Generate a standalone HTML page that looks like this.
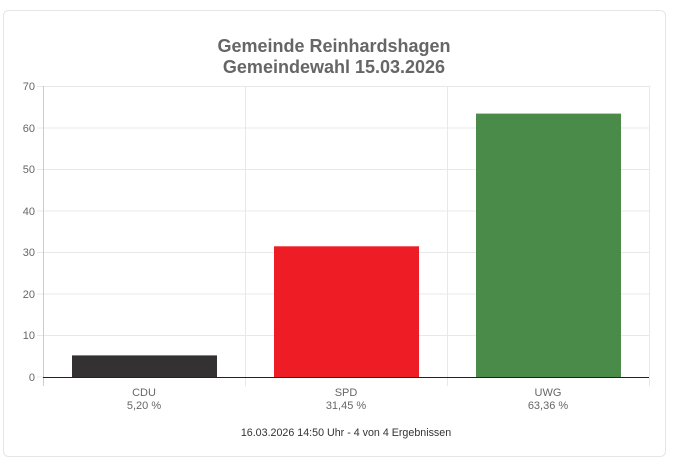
<!DOCTYPE html><html><head><style>body{margin:0;background:#fff;width:673px;height:467px;overflow:hidden;font-family:"Liberation Sans",sans-serif}</style></head><body>
<svg width="673" height="467" xmlns="http://www.w3.org/2000/svg" font-family="Liberation Sans, sans-serif">
<rect x="3.5" y="10.5" width="662" height="446" rx="5" fill="#fff" stroke="#e6e6e6"/>
<text x="334" y="52" text-anchor="middle" font-size="18" font-weight="bold" fill="#666">Gemeinde Reinhardshagen</text>
<text x="334" y="73" text-anchor="middle" font-size="18" font-weight="bold" fill="#666">Gemeindewahl 15.03.2026</text>
<g stroke="#e8e8e8" stroke-width="1">
<line x1="43" y1="86.5" x2="649" y2="86.5"/><line x1="43" y1="128" x2="649" y2="128"/><line x1="43" y1="169.5" x2="649" y2="169.5"/><line x1="43" y1="211" x2="649" y2="211"/><line x1="43" y1="252.5" x2="649" y2="252.5"/><line x1="43" y1="294" x2="649" y2="294"/><line x1="43" y1="335.5" x2="649" y2="335.5"/>
<line x1="245.5" y1="86" x2="245.5" y2="386"/><line x1="447.5" y1="86" x2="447.5" y2="386"/><line x1="649.5" y1="86" x2="649.5" y2="386"/>
<line x1="37" y1="86.5" x2="43" y2="86.5"/><line x1="37" y1="128" x2="43" y2="128"/><line x1="37" y1="169.5" x2="43" y2="169.5"/><line x1="37" y1="211" x2="43" y2="211"/><line x1="37" y1="252.5" x2="43" y2="252.5"/><line x1="37" y1="294" x2="43" y2="294"/><line x1="37" y1="335.5" x2="43" y2="335.5"/><line x1="37" y1="377" x2="43" y2="377"/>
</g>
<line x1="43.5" y1="86" x2="43.5" y2="386" stroke="#ccc"/>
<rect x="72" y="355.4" width="145" height="21.6" fill="#333132"/>
<rect x="274" y="246.3" width="145" height="130.7" fill="#ee1c25"/>
<rect x="476" y="113.6" width="145" height="263.4" fill="#4a8b49"/>
<line x1="43" y1="377.5" x2="649" y2="377.5" stroke="#222"/>
<g font-size="11" fill="#666" text-anchor="end">
<text x="35" y="90">70</text><text x="35" y="132">60</text><text x="35" y="173">50</text><text x="35" y="215">40</text><text x="35" y="256">30</text><text x="35" y="298">20</text><text x="35" y="339">10</text><text x="35" y="381">0</text>
</g>
<g font-size="11" fill="#666" text-anchor="middle">
<text x="144" y="396">CDU</text><text x="144" y="409">5,20 %</text>
<text x="346" y="396">SPD</text><text x="346" y="409">31,45 %</text>
<text x="548" y="396">UWG</text><text x="548" y="409">63,36 %</text>
</g>
<text x="346" y="436" text-anchor="middle" font-size="10.7" fill="#333">16.03.2026 14:50 Uhr - 4 von 4 Ergebnissen</text>
</svg></body></html>
